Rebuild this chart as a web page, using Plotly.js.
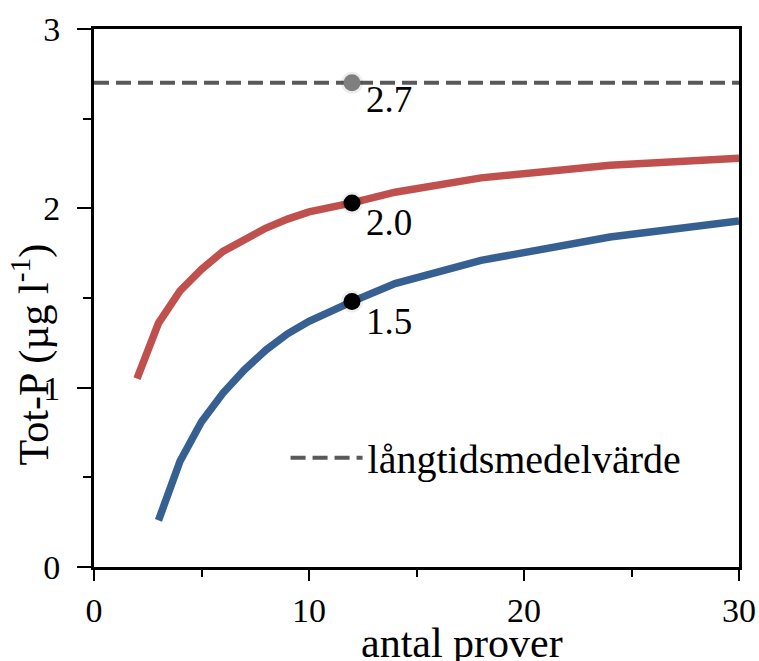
<!DOCTYPE html>
<html>
<head>
<meta charset="utf-8">
<script src="https://cdn.plot.ly/plotly-3.0.1.min.js"></script>
<style>
  html, body { margin: 0; padding: 0; background: #ffffff; }
  #chart { width: 759px; height: 661px; }
</style>
</head>
<body>
<div id="chart"></div>
<script>
// Upper curve (red)
const redX = [2, 3, 4, 5, 6, 7, 8, 9, 10, 12, 14, 18, 24, 30];
const redY = [1.05, 1.36, 1.54, 1.66, 1.76, 1.83, 1.89, 1.94, 1.98, 2.03, 2.09, 2.17, 2.24, 2.28];
// Lower curve (blue)
const blueX = [3, 4, 5, 6, 7, 8, 9, 10, 12, 14, 18, 24, 30];
const blueY = [0.26, 0.59, 0.81, 0.97, 1.10, 1.21, 1.30, 1.37, 1.48, 1.58, 1.71, 1.84, 1.93];
// Long-term mean (dashed)
const meanX = [0, 30];
const meanY = [2.7, 2.7];
const meanName = "långtidsmedelvärde";
// Highlighted points at 12 samples
const markX = [12, 12, 12];
const markY = [2.7, 2.03, 1.48];
const markLabels = ["2.7", "2.0", "1.5"];
const markColors = ["#7f7f7f", "#000000", "#000000"];
const markShift = [-17, -20, -20];
// Axis ticks
const xTicks = [0, 10, 20, 30];
const yTicks = [0, 1, 2, 3];
const xTitle = "antal prover";
const yTitle = "Tot-P (µg l<sup>-1</sup>)";

const FONT = '"Liberation Serif", "Times New Roman", serif';

const traces = [
  {
    x: meanX, y: meanY, type: 'scatter', mode: 'lines', name: meanName,
    line: { color: '#595959', width: 4, dash: '15px,7px' },
    showlegend: true, hoverinfo: 'skip'
  },
  {
    x: redX, y: redY, type: 'scatter', mode: 'lines',
    line: { color: '#C0504D', width: 7.5 }, showlegend: false
  },
  {
    x: blueX, y: blueY, type: 'scatter', mode: 'lines',
    line: { color: '#376092', width: 7.5 }, showlegend: false
  },
  {
    x: markX, y: markY, type: 'scatter', mode: 'markers',
    marker: { size: 22, color: 'rgba(0,0,0,0.07)' },
    showlegend: false, hoverinfo: 'skip'
  },
  {
    x: markX, y: markY, type: 'scatter', mode: 'markers',
    marker: { size: 17, color: markColors },
    showlegend: false
  }
];

const annotations = markLabels.map((t, i) => ({
  x: markX[i], y: markY[i], xref: 'x', yref: 'y',
  text: t, showarrow: false, xanchor: 'left', yanchor: 'middle',
  xshift: 12, yshift: markShift[i],
  font: { family: FONT, size: 37, color: '#000000' }
}));

annotations.push({
  x: 0.57, y: -0.095, xref: 'paper', yref: 'paper',
  text: xTitle, showarrow: false, xanchor: 'center', yanchor: 'top',
  font: { family: FONT, size: 42, color: '#000000' }
});
annotations.push({
  x: -0.097, y: 0.396, xref: 'paper', yref: 'paper',
  text: yTitle, showarrow: false, xanchor: 'center', yanchor: 'middle',
  textangle: -90,
  font: { family: FONT, size: 42, color: '#000000' }
});

const layout = {
  width: 759, height: 661,
  margin: { l: 94, r: 20, t: 29, b: 94, pad: 0 },
  paper_bgcolor: '#ffffff', plot_bgcolor: '#ffffff',
  font: { family: FONT, size: 33, color: '#000000' },
  showlegend: true,
  legend: {
    x: 0.297, y: 0.203, xanchor: 'left', yanchor: 'middle',
    bgcolor: 'rgba(0,0,0,0)', borderwidth: 0,
    font: { family: FONT, size: 40, color: '#000000' },
    itemwidth: 72
  },
  xaxis: {
    range: [0, 30], tickvals: xTicks, ticktext: xTicks.map(String),
    showgrid: false, zeroline: false,
    showline: true, linecolor: '#000000', linewidth: 3, mirror: true,
    ticks: 'outside', ticklen: 11, tickwidth: 2, tickcolor: '#000000',
    minor: { dtick: 5, ticks: 'outside', ticklen: 7, tickwidth: 2, tickcolor: '#000000', showgrid: false },
    tickfont: { family: FONT, size: 34, color: '#000000' },
    fixedrange: true
  },
  yaxis: {
    range: [0, 3], tickvals: yTicks, ticktext: yTicks.map(String),
    showgrid: false, zeroline: false,
    showline: true, linecolor: '#000000', linewidth: 3, mirror: true,
    ticks: 'outside', ticklen: 14, tickwidth: 2, tickcolor: '#000000',
    ticklabelstandoff: 10,
    minor: { dtick: 0.5, ticks: 'outside', ticklen: 8, tickwidth: 2, tickcolor: '#000000', showgrid: false },
    tickfont: { family: FONT, size: 34, color: '#000000' },
    fixedrange: true
  },
  annotations: annotations
};

Plotly.newPlot('chart', traces, layout, { displayModeBar: false, staticPlot: true });
</script>
</body>
</html>
